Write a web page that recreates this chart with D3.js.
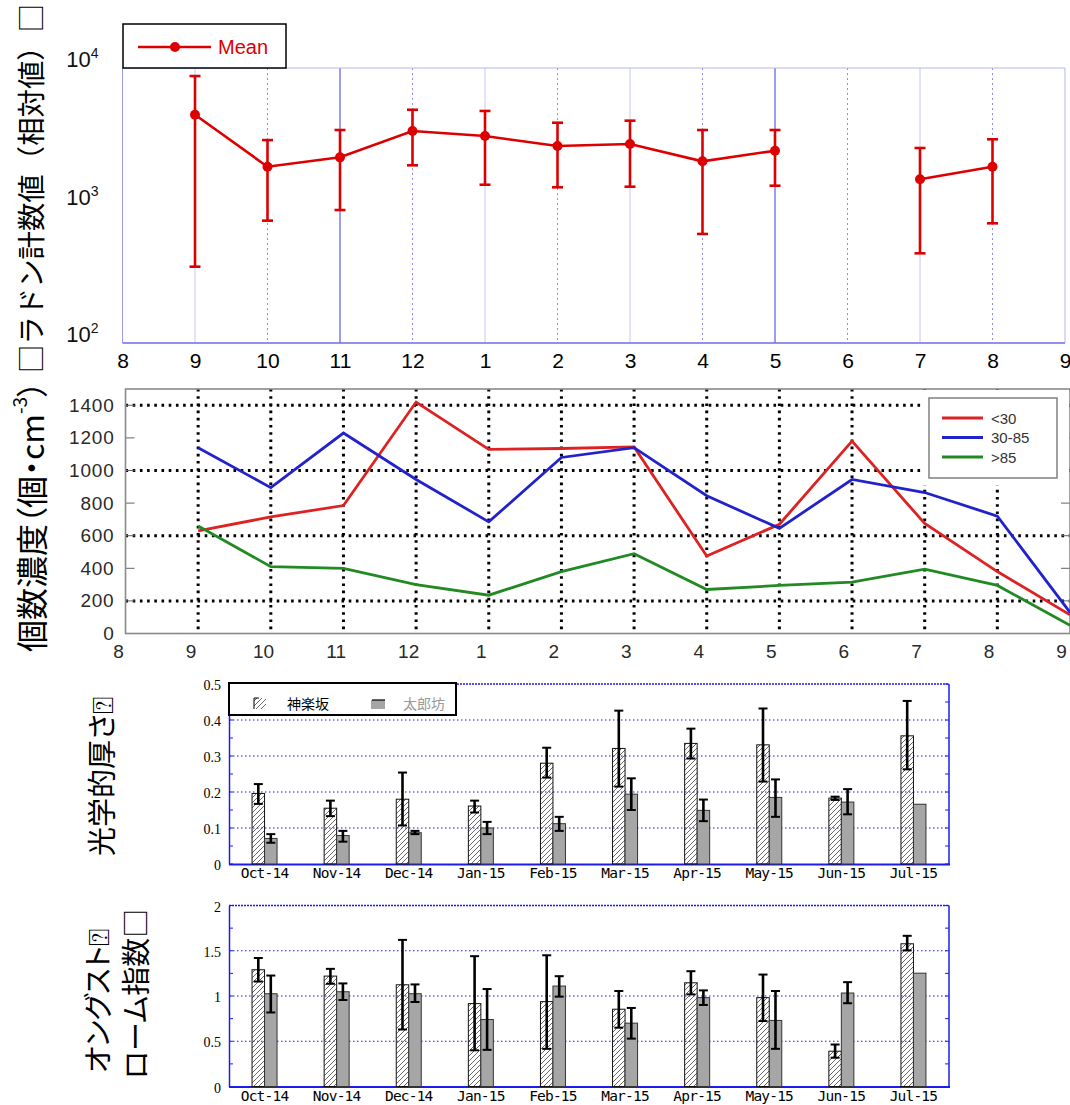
<!DOCTYPE html>
<html><head><meta charset="utf-8">
<script src="https://cdn.jsdelivr.net/npm/d3@7"></script>
<style>body{margin:0;background:#fff}svg{display:block}</style>
</head><body>
<svg id="c" width="1070" height="1105"></svg>
<script>
// ---------------- DATA ----------------
// Panel 1: radon counts (log scale), months 9..20 (13 = Jan ...)
const radonMonths = [9,10,11,12,13,14,15,16,17,18,19,20];
const radonMean  = [4570,1915,2240,3480,3200,2710,2800,2096,2505,null,1550,1915];
const radonUpper = [8740,2990,3540,4970,4870,4000,4140,3540,3540,null,2620,3030];
const radonLower = [359,776,927,1960,1416,1356,1370,621,1393,null,449,742];
const monthTicks = [8,9,10,11,12,13,14,15,16,17,18,19,20,21];
const radonYTicks = [100,1000,10000];

// Panel 2: particle number concentration
const pnMonths = [9,10,11,12,13,14,15,16,17,18,19,20,21];
const pnSmall  = [630,715,785,1420,1130,1135,1145,475,670,1180,675,380,115];
const pnMid    = [1140,895,1230,945,685,1080,1140,845,645,945,865,720,130];
const pnLarge  = [660,410,400,300,235,380,490,270,295,315,395,295,50];
const pnNames  = ["<30","30-85",">85"];
const pnYTicks = [0,200,400,600,800,1000,1200,1400];
const pnGridY  = [200,600,1000,1400];

// Panels 3-4: categories
const barCats = ["Oct-14","Nov-14","Dec-14","Jan-15","Feb-15","Mar-15","Apr-15","May-15","Jun-15","Jul-15"];
const siteNames = ["神楽坂","太郎坊"];
// Panel 3: aerosol optical depth
const aodKagura   = [0.196,0.155,0.180,0.161,0.280,0.321,0.335,0.331,0.183,0.356];
const aodKaguraHi = [0.222,0.176,0.254,0.176,0.323,0.426,0.376,0.432,0.187,0.453];
const aodKaguraLo = [0.167,0.133,0.107,0.143,0.240,0.215,0.293,0.229,0.178,0.263];
const aodTaro     = [0.071,0.079,0.087,0.100,0.112,0.194,0.149,0.185,0.172,0.166];
const aodTaroHi   = [0.083,0.092,0.092,0.117,0.131,0.238,0.179,0.235,0.208,null];
const aodTaroLo   = [0.059,0.062,0.083,0.083,0.092,0.150,0.119,0.131,0.138,null];
const aodTicks    = [0,0.1,0.2,0.3,0.4,0.5];
// Panel 4: Angstrom exponent
const angKagura   = [1.29,1.22,1.124,0.916,0.938,0.854,1.146,0.982,0.39,1.577];
const angKaguraHi = [1.42,1.30,1.62,1.44,1.45,1.055,1.274,1.237,0.464,1.665];
const angKaguraLo = [1.16,1.135,0.63,0.40,0.416,0.65,1.018,0.723,0.318,1.504];
const angTaro     = [1.025,1.047,1.025,0.74,1.11,0.70,0.982,0.73,1.033,1.252];
const angTaroHi   = [1.226,1.139,1.128,1.077,1.219,0.868,1.062,1.055,1.153,null];
const angTaroLo   = [0.818,0.956,0.934,0.405,0.993,0.529,0.901,0.416,0.92,null];
const angTicks    = [0,0.5,1,1.5,2];

// ---------------- DRAW ----------------
const svg = d3.select("#c");
const SANS = "'Liberation Sans', Arial, sans-serif";
const SERIF = "'Liberation Serif', 'Times New Roman', serif";
const MONO = "'DejaVu Sans Mono', monospace";
const JP = "'Noto Sans CJK JP', sans-serif";
const monthLabel = m => String(((m - 1) % 12) + 1);

// vertical Japanese labels
function vlabel(x, yBottom, size, parts, palt) {
  const t = svg.append("text").attr("transform", `translate(${x},${yBottom}) rotate(-90)`)
    .attr("font-family", JP).attr("font-size", size).attr("fill", "#000")
    .attr("dominant-baseline", "central");
  if (palt) t.style("font-feature-settings", "'palt'");
  parts.forEach(p => {
    const s = t.append("tspan").text(p.t);
    if (p.sup) s.attr("font-size", size * 0.6).attr("dy", -size * 0.35);
    if (p.after) s.attr("dy", size * 0.35);
  });
  return t;
}

// ===== Panel 1 =====
(function () {
  const x = d3.scaleLinear().domain([8, 21]).range([122.5, 1065]);
  const y = d3.scaleLog().domain([100, 10000]).range([343, 68]);
  const g = svg.append("g");
  const strong = new Set([11, 17]);
  g.selectAll("line.vg").data(d3.range(9, 21)).join("line")
    .attr("x1", d => x(d)).attr("x2", d => x(d)).attr("y1", y(10000)).attr("y2", y(100))
    .attr("stroke", d => strong.has(d) ? "#3a3ae6" : (d % 2 ? "#c6c6f6" : "#8d8df0"))
    .attr("stroke-width", 1)
    .attr("stroke-dasharray", d => d % 2 ? null : "2,3");
  // frame
  g.append("line").attr("x1", x(8)).attr("x2", x(21)).attr("y1", y(10000)).attr("y2", y(10000)).attr("stroke", "#b4b4f2");
  g.append("line").attr("x1", x(21)).attr("x2", x(21)).attr("y1", y(10000)).attr("y2", y(100)).attr("stroke", "#b4b4f2");
  g.append("line").attr("x1", x(8)).attr("x2", x(8)).attr("y1", y(10000)).attr("y2", y(100)).attr("stroke", "#9a9af0");
  g.append("line").attr("x1", x(8)).attr("x2", x(21)).attr("y1", y(100)).attr("y2", y(100)).attr("stroke", "#6e6ee8").attr("stroke-width", 1.3);

  // x axis
  const ax = g.append("g").attr("transform", `translate(0,${y(100)})`)
    .call(d3.axisBottom(x).tickValues(monthTicks).tickFormat(monthLabel).tickSize(0).tickPadding(10));
  ax.select(".domain").remove();
  ax.selectAll("text").attr("font-family", SANS).attr("font-size", 21).attr("fill", "#000");

  // y axis labels 10^n
  const ay = g.append("g").attr("transform", `translate(${x(8)},0)`)
    .call(d3.axisLeft(y).tickValues(radonYTicks).tickSize(0).tickPadding(26).tickFormat(""));
  ay.select(".domain").remove();
  ay.selectAll(".tick text").each(function (d) {
    const t = d3.select(this).attr("font-family", SANS).attr("font-size", 22).attr("fill", "#111")
      .attr("dy", "-0.05em").attr("text-anchor", "end").attr("x", -24);
    t.append("tspan").text("10");
    t.append("tspan").text(Math.round(Math.log10(d))).attr("font-size", 14).attr("dy", -9);
  });

  const pts = radonMonths.map((m, i) => ({ m, v: radonMean[i], hi: radonUpper[i], lo: radonLower[i] }));
  const red = "#dd0000";
  const line = d3.line().defined(d => d.v != null).x(d => x(d.m)).y(d => y(d.v));
  g.append("path").datum(pts).attr("d", line).attr("fill", "none").attr("stroke", red).attr("stroke-width", 2.6);
  const valid = pts.filter(d => d.v != null);
  const eb = g.selectAll("g.eb").data(valid).join("g").attr("stroke", red).attr("stroke-width", 2.6);
  eb.append("line").attr("x1", d => x(d.m)).attr("x2", d => x(d.m)).attr("y1", d => y(d.lo)).attr("y2", d => y(d.hi));
  eb.append("line").attr("x1", d => x(d.m) - 5.5).attr("x2", d => x(d.m) + 5.5).attr("y1", d => y(d.hi)).attr("y2", d => y(d.hi));
  eb.append("line").attr("x1", d => x(d.m) - 5.5).attr("x2", d => x(d.m) + 5.5).attr("y1", d => y(d.lo)).attr("y2", d => y(d.lo));
  g.selectAll("circle.pt").data(valid).join("circle").attr("cx", d => x(d.m)).attr("cy", d => y(d.v)).attr("r", 5).attr("fill", red);

  // legend
  const lg = g.append("g");
  lg.append("rect").attr("x", 123).attr("y", 24).attr("width", 163).attr("height", 44).attr("fill", "#fff").attr("stroke", "#000").attr("stroke-width", 1.5);
  lg.append("line").attr("x1", 138).attr("x2", 211).attr("y1", 47).attr("y2", 47).attr("stroke", red).attr("stroke-width", 2.6);
  lg.append("circle").attr("cx", 175).attr("cy", 47).attr("r", 5).attr("fill", red);
  lg.append("text").attr("x", 218).attr("y", 54).attr("font-family", SANS).attr("font-size", 20).attr("fill", red).text("Mean");
})();

vlabel(29, 373, 28.4, [{ t: "□ラドン計数値（相対値）□" }], false);

// ===== Panel 2 =====
(function () {
  const x = d3.scaleLinear().domain([8, 21]).range([125.5, 1070]);
  const xl = d3.scaleLinear().domain([8, 21]).range([118, 1061]);
  const y = d3.scaleLinear().domain([0, 1500]).range([633.5, 389]);
  const g = svg.append("g");
  const dot = { stroke: "#000", w: 3, dash: "2.6,4.6" };
  // vertical dotted grid
  g.selectAll("line.vg").data(d3.range(9, 21)).join("line")
    .attr("x1", d => x(d)).attr("x2", d => x(d)).attr("y1", y(1500)).attr("y2", y(0))
    .attr("stroke", dot.stroke).attr("stroke-width", dot.w).attr("stroke-dasharray", dot.dash);
  g.selectAll("line.hg").data(pnGridY).join("line")
    .attr("x1", x(8)).attr("x2", x(21)).attr("y1", d => y(d)).attr("y2", d => y(d))
    .attr("stroke", dot.stroke).attr("stroke-width", dot.w).attr("stroke-dasharray", dot.dash);
  // inner ticks
  g.selectAll("line.lt").data(pnYTicks).join("line")
    .attr("x1", x(8)).attr("x2", x(8) + 9).attr("y1", d => y(d)).attr("y2", d => y(d)).attr("stroke", "#666");
  g.selectAll("line.rt").data(pnYTicks).join("line")
    .attr("x1", x(21) - 9).attr("x2", x(21)).attr("y1", d => y(d)).attr("y2", d => y(d)).attr("stroke", "#666");
  // frame
  g.append("rect").attr("x", x(8)).attr("y", y(1500)).attr("width", x(21) - x(8)).attr("height", y(0) - y(1500))
    .attr("fill", "none").attr("stroke", "#8a8a8a").attr("stroke-width", 1.6);

  // axes
  const ay = g.append("g").attr("transform", `translate(${x(8)},0)`)
    .call(d3.axisLeft(y).tickValues(pnYTicks).tickSize(0).tickPadding(11).tickFormat(d3.format("d")));
  ay.select(".domain").remove();
  ay.selectAll("text").attr("font-family", SANS).attr("font-size", 19).attr("letter-spacing", 0.8).attr("fill", "#2a2a2a");
  const ax = g.append("g").attr("transform", `translate(0,${y(0)})`)
    .call(d3.axisBottom(xl).tickValues(monthTicks).tickFormat(monthLabel).tickSize(0).tickPadding(11));
  ax.select(".domain").remove();
  ax.selectAll("text").attr("font-family", SANS).attr("font-size", 19).attr("fill", "#2a2a2a");

  const series = [pnSmall, pnMid, pnLarge];
  const colors = ["#dd2222", "#2222cc", "#228a22"];
  const line = d3.line().x((d, i) => x(pnMonths[i])).y(d => y(d));
  series.forEach((s, k) => {
    g.append("path").datum(s).attr("d", line).attr("fill", "none").attr("stroke", colors[k]).attr("stroke-width", 2.8);
  });

  // legend
  g.append("rect").attr("x", 922).attr("y", 390).attr("width", 147).attr("height", 95).attr("fill", "#fff");
  g.append("rect").attr("x", 929).attr("y", 398).attr("width", 128).attr("height", 80).attr("fill", "#fff").attr("stroke", "#888").attr("stroke-width", 1.6);
  pnNames.forEach((n, k) => {
    const yy = 418 + k * 19.5;
    g.append("line").attr("x1", 942).attr("x2", 983).attr("y1", yy).attr("y2", yy).attr("stroke", colors[k]).attr("stroke-width", 2.8);
    g.append("text").attr("x", 991).attr("y", yy + 5.5).attr("font-family", SANS).attr("font-size", 15).attr("fill", "#333").text(n);
  });
})();

vlabel(30, 652, 32, [{ t: "個数濃度（個・cm" }, { t: "-3", sup: true }, { t: "）", after: true }], true);

// ===== Panels 3 & 4 =====
const defs = svg.append("defs");
defs.append("pattern").attr("id", "hatch").attr("patternUnits", "userSpaceOnUse").attr("width", 5).attr("height", 5)
  .append("path").attr("d", "M-1,1 l2,-2 M0,5 l5,-5 M4,6 l2,-2").attr("stroke", "#444").attr("stroke-width", 0.8);

function barPanel(o) {
  const x = d3.scaleBand().domain(barCats).range([228.5, 949.5]);
  const y = d3.scaleLinear().domain(o.domain).range([o.bottom, o.top]);
  const g = svg.append("g");
  const blue = "#1c1cee";
  // grid
  g.selectAll("line.hg").data(o.ticks.slice(1, -1)).join("line")
    .attr("x1", 229).attr("x2", 949).attr("y1", d => y(d)).attr("y2", d => y(d))
    .attr("stroke", blue).attr("stroke-width", 1.2).attr("stroke-dasharray", "1.5,2.5");
  g.append("line").attr("x1", 229).attr("x2", 949).attr("y1", y(o.domain[1])).attr("y2", y(o.domain[1]))
    .attr("stroke", blue).attr("stroke-width", 1.3).attr("stroke-dasharray", "2,1");
  // minor ticks
  const minor = d3.range(o.domain[0], o.domain[1] + 1e-9, o.minor);
  g.selectAll("line.ml").data(minor).join("line")
    .attr("x1", 229).attr("x2", 233).attr("y1", d => y(d)).attr("y2", d => y(d)).attr("stroke", blue);
  g.selectAll("line.mr").data(minor).join("line")
    .attr("x1", 945).attr("x2", 949).attr("y1", d => y(d)).attr("y2", d => y(d)).attr("stroke", blue);
  // axes
  const ay = g.append("g").attr("transform", "translate(229,0)")
    .call(d3.axisLeft(y).tickValues(o.ticks).tickSize(0).tickPadding(8).tickFormat(d3.format("")));
  ay.select(".domain").attr("stroke", blue).attr("stroke-width", 1.5);
  ay.selectAll("text").attr("font-family", SERIF).attr("font-size", 14).attr("fill", "#000").attr("dy", "0.4em");
  g.append("line").attr("x1", 949).attr("x2", 949).attr("y1", o.top).attr("y2", o.bottom).attr("stroke", blue).attr("stroke-width", 1.5);
  const ax = g.append("g").attr("transform", `translate(0,${o.bottom})`)
    .call(d3.axisBottom(x).tickSize(0).tickPadding(4));
  ax.select(".domain").attr("stroke", blue).attr("stroke-width", 2);
  ax.selectAll("text").attr("font-family", MONO).attr("font-size", 14.5).attr("letter-spacing", -0.8).attr("fill", "#000");

  const bw = 12.5;
  const rows = barCats.map((c, i) => ({ c, a: o.a[i], aHi: o.aHi[i], aLo: o.aLo[i], b: o.b[i], bHi: o.bHi[i], bLo: o.bLo[i] }));
  const cx = c => x(c) + x.bandwidth() / 2;
  g.selectAll("rect.ha").data(rows).join("rect")
    .attr("x", d => cx(d.c) - bw).attr("width", bw).attr("y", d => y(d.a)).attr("height", d => y(0) - y(d.a))
    .attr("fill", "url(#hatch)").attr("stroke", "#111").attr("stroke-width", 1);
  g.selectAll("rect.gb").data(rows).join("rect")
    .attr("x", d => cx(d.c)).attr("width", bw).attr("y", d => y(d.b)).attr("height", d => y(0) - y(d.b))
    .attr("fill", "#a6a6a6").attr("stroke", "#333").attr("stroke-width", 1);
  const errs = [];
  rows.forEach(d => {
    errs.push({ x: cx(d.c) - bw / 2, hi: d.aHi, lo: d.aLo });
    if (d.bHi != null) errs.push({ x: cx(d.c) + bw / 2, hi: d.bHi, lo: d.bLo });
  });
  const eb = g.selectAll("g.eb").data(errs).join("g").attr("stroke", "#000").attr("stroke-width", 2.6);
  eb.append("line").attr("x1", d => d.x).attr("x2", d => d.x).attr("y1", d => y(d.lo)).attr("y2", d => y(d.hi));
  eb.append("line").attr("x1", d => d.x - 4.5).attr("x2", d => d.x + 4.5).attr("y1", d => y(d.hi)).attr("y2", d => y(d.hi)).attr("stroke-width", 2);
  eb.append("line").attr("x1", d => d.x - 4.5).attr("x2", d => d.x + 4.5).attr("y1", d => y(d.lo)).attr("y2", d => y(d.lo)).attr("stroke-width", 2);
  return g;
}

barPanel({ domain: [0, 0.5], ticks: aodTicks, minor: 0.05, top: 684, bottom: 864,
  a: aodKagura, aHi: aodKaguraHi, aLo: aodKaguraLo, b: aodTaro, bHi: aodTaroHi, bLo: aodTaroLo });
barPanel({ domain: [0, 2], ticks: angTicks, minor: 0.25, top: 905.5, bottom: 1086.5,
  a: angKagura, aHi: angKaguraHi, aLo: angKaguraLo, b: angTaro, bHi: angTaroHi, bLo: angTaroLo });

// legend panel 3
(function () {
  const g = svg.append("g");
  g.append("rect").attr("x", 229).attr("y", 683).attr("width", 227).attr("height", 32).attr("fill", "#fff").attr("stroke", "#000").attr("stroke-width", 2);
  g.append("rect").attr("x", 254).attr("y", 698).attr("width", 12).attr("height", 11).attr("fill", "url(#hatch)");
  g.append("line").attr("x1", 254).attr("x2", 259).attr("y1", 698).attr("y2", 698).attr("stroke", "#000");
  g.append("line").attr("x1", 254).attr("x2", 254).attr("y1", 698).attr("y2", 709).attr("stroke", "#000");
  g.append("text").attr("x", 287).attr("y", 703).attr("dominant-baseline", "central").attr("font-family", JP).attr("font-size", 14).attr("fill", "#000").text(siteNames[0]);
  g.append("rect").attr("x", 371).attr("y", 700).attr("width", 14).attr("height", 9).attr("fill", "#a6a6a6");
  g.append("line").attr("x1", 372).attr("x2", 385).attr("y1", 700).attr("y2", 700).attr("stroke", "#000").attr("stroke-width", 1.2);
  g.append("text").attr("x", 403).attr("y", 703).attr("dominant-baseline", "central").attr("font-family", JP).attr("font-size", 14).attr("fill", "#999").text(siteNames[1]);
})();

vlabel(100, 856, 29, [{ t: "光学的厚さ⍰" }], true);
vlabel(96, 1073, 29, [{ t: "オングスト⍰" }], true);
vlabel(134, 1079, 29, [{ t: "ローム指数□" }], true);
</script>
</body></html>
